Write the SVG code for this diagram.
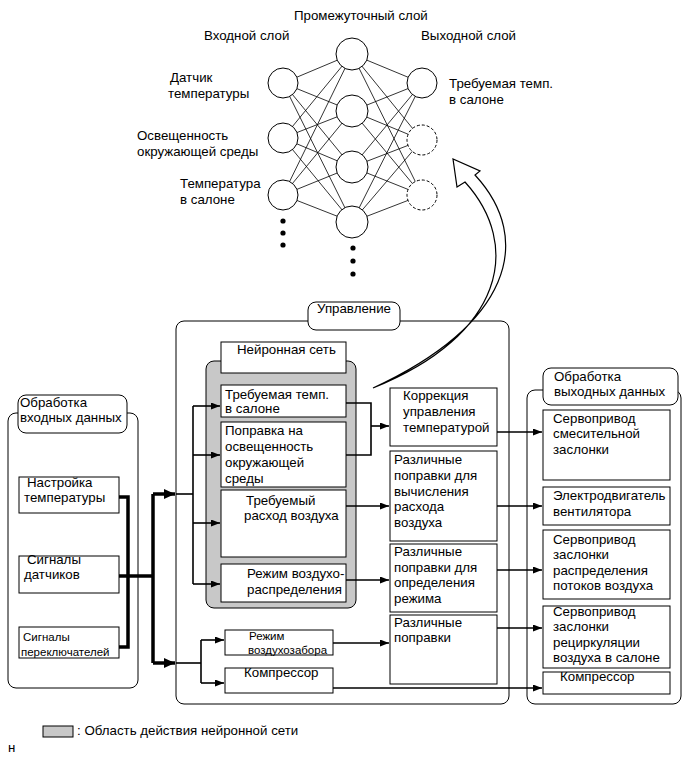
<svg xmlns="http://www.w3.org/2000/svg" width="690" height="759" viewBox="0 0 690 759">
<style>
text{font-family:"Liberation Sans",Arial,sans-serif;font-size:13.3px;fill:#000}
.sm{font-size:11.5px}
.box{fill:#fff;stroke:#000;stroke-width:1}
.grp{fill:#fff;stroke:#000;stroke-width:1}
.nn line{stroke:#000;stroke-width:0.8}
.neu{fill:#fff;stroke:#000;stroke-width:1}
.dash{fill:#fff;stroke:#000;stroke-width:1;stroke-dasharray:3,2}
.c{fill:none;stroke:#000;stroke-width:1.6}
.thick{fill:none;stroke:#000;stroke-width:3.5}
</style>
<defs>
<marker id="ah" markerUnits="userSpaceOnUse" markerWidth="10" markerHeight="8" refX="9" refY="3.5" orient="auto"><path d="M0,0 L9,3.5 L0,7 z" fill="#000"/></marker>
<marker id="ah2" markerUnits="userSpaceOnUse" markerWidth="12" markerHeight="10" refX="11" refY="5" orient="auto"><path d="M0,0 L11,5 L0,10 z" fill="#000"/></marker>
</defs>

<g id="network">
<g class="nn">
<line x1="283" y1="83" x2="352" y2="54"/><line x1="283" y1="83" x2="352" y2="111"/><line x1="283" y1="83" x2="352" y2="167"/><line x1="283" y1="83" x2="352" y2="222"/>
<line x1="283" y1="138" x2="352" y2="54"/><line x1="283" y1="138" x2="352" y2="111"/><line x1="283" y1="138" x2="352" y2="167"/><line x1="283" y1="138" x2="352" y2="222"/>
<line x1="283" y1="195" x2="352" y2="54"/><line x1="283" y1="195" x2="352" y2="111"/><line x1="283" y1="195" x2="352" y2="167"/><line x1="283" y1="195" x2="352" y2="222"/>
<line x1="352" y1="54" x2="422" y2="83"/><line x1="352" y1="54" x2="422" y2="140"/><line x1="352" y1="54" x2="422" y2="195"/>
<line x1="352" y1="111" x2="422" y2="83"/><line x1="352" y1="111" x2="422" y2="140"/><line x1="352" y1="111" x2="422" y2="195"/>
<line x1="352" y1="167" x2="422" y2="83"/><line x1="352" y1="167" x2="422" y2="140"/><line x1="352" y1="167" x2="422" y2="195"/>
<line x1="352" y1="222" x2="422" y2="83"/><line x1="352" y1="222" x2="422" y2="140"/><line x1="352" y1="222" x2="422" y2="195"/>
</g>
<circle class="neu" cx="283" cy="83" r="15"/>
<circle class="neu" cx="283" cy="138" r="15"/>
<circle class="neu" cx="283" cy="195" r="15"/>
<circle class="neu" cx="352" cy="54" r="16"/>
<circle class="neu" cx="352" cy="111" r="16"/>
<circle class="neu" cx="352" cy="167" r="16"/>
<circle class="neu" cx="352" cy="222" r="16"/>
<circle class="neu" cx="422" cy="83" r="15"/>
<circle class="dash" cx="422" cy="140" r="15"/>
<circle class="dash" cx="422" cy="195" r="15"/>
<circle cx="283" cy="221" r="2.6"/><circle cx="283" cy="233" r="2.6"/><circle cx="283" cy="245" r="2.6"/>
<circle cx="353" cy="248" r="2.6"/><circle cx="353" cy="261" r="2.6"/><circle cx="353" cy="274" r="2.6"/>
<text x="294" y="20">Промежуточный слой</text>
<text x="204" y="40">Входной слой</text>
<text x="421" y="40">Выходной слой</text>
<text x="170" y="82">Датчик</text>
<text x="168" y="98">температуры</text>
<text x="137" y="140">Освещенность</text>
<text x="137" y="156">окружающей среды</text>
<text x="180" y="188">Температура</text>
<text x="180" y="204">в салоне</text>
<text x="449" y="88">Требуемая темп.</text>
<text x="449" y="104">в салоне</text>
</g>

<g id="input-block">
<rect class="grp" x="8" y="413" width="130" height="275" rx="8"/>
<rect class="grp" x="18" y="395" width="109" height="38" rx="8"/>
<text x="20" y="407">Обработка</text>
<text x="20" y="422">входных данных</text>
</g>
<g id="in-temp"><rect class="box" x="19" y="477" width="100" height="36"/><text x="27" y="487">Настройка</text><text x="24" y="502">температуры</text></g>
<g id="in-sensors"><rect class="box" x="19" y="556" width="100" height="37"/><text x="27" y="564">Сигналы</text><text x="24" y="579">датчиков</text></g>
<g id="in-switches"><rect class="box" x="19" y="627" width="100" height="31"/><text class="sm" x="23" y="641">Сигналы</text><text class="sm" x="21" y="656">переключателей</text></g>

<g id="control-block">
<rect class="grp" x="176" y="321" width="333" height="383" rx="8"/>
<rect class="grp" x="308" y="302" width="92" height="28" rx="8"/>
<text x="354" y="313" text-anchor="middle">Управление</text>
</g>
<g id="nn-region">
<rect x="206" y="361" width="150" height="247" rx="8" fill="#c8c8c8" stroke="#000" stroke-width="1"/>
<rect class="box" x="221" y="342" width="125" height="31"/>
<text x="237" y="354">Нейронная сеть</text>
</g>
<g id="nn-temp"><rect class="box" x="221" y="385" width="125" height="32"/><text x="225" y="399">Требуемая темп.</text><text x="225" y="413">в салоне</text></g>
<g id="nn-light"><rect class="box" x="221" y="422" width="125" height="65"/><text x="225" y="435">Поправка на</text><text x="225" y="451">освещенность</text><text x="225" y="467">окружающей</text><text x="225" y="483">среды</text></g>
<g id="nn-flow"><rect class="box" x="221" y="490" width="125" height="67"/><text x="246" y="505">Требуемый</text><text x="244" y="520">расход воздуха</text></g>
<g id="nn-mode"><rect class="box" x="221" y="564" width="125" height="38"/><text x="247" y="578">Режим воздухо-</text><text x="247" y="594">распределения</text></g>
<g id="intake"><rect class="box" x="225" y="630" width="108" height="25"/><text class="sm" x="249" y="640">Режим</text><text class="sm" x="248" y="654">воздухозабора</text></g>
<g id="compressor"><rect class="box" x="225" y="668" width="108" height="25"/><text x="244" y="677">Компрессор</text></g>
<g id="corr-temp"><rect class="box" x="390" y="388" width="107" height="58"/><text x="403" y="400">Коррекция</text><text x="403" y="416">управления</text><text x="403" y="432">температурой</text></g>
<g id="corr-flow"><rect class="box" x="390" y="451" width="107" height="90"/><text x="394" y="464">Различные</text><text x="394" y="480">поправки для</text><text x="394" y="496">вычисления</text><text x="394" y="511">расхода</text><text x="394" y="527">воздуха</text></g>
<g id="corr-mode"><rect class="box" x="390" y="544" width="107" height="68"/><text x="394" y="556">Различные</text><text x="394" y="572">поправки для</text><text x="394" y="587">определения</text><text x="394" y="603">режима</text></g>
<g id="corr-misc"><rect class="box" x="390" y="615" width="107" height="69"/><text x="394" y="627">Различные</text><text x="394" y="642">поправки</text></g>

<g id="output-block">
<rect class="grp" x="527" y="390" width="154" height="314" rx="8"/>
<rect class="grp" x="543" y="368" width="135" height="37" rx="8"/>
<text x="554" y="381">Обработка</text>
<text x="554" y="396">выходных данных</text>
</g>
<g id="out-mix"><rect class="box" x="543" y="410" width="127" height="70"/><text x="553" y="423">Сервопривод</text><text x="553" y="438">смесительной</text><text x="553" y="454">заслонки</text></g>
<g id="out-fan"><rect class="box" x="543" y="487" width="127" height="38"/><text x="553" y="500">Электродвигатель</text><text x="553" y="516">вентилятора</text></g>
<g id="out-dist"><rect class="box" x="543" y="530" width="127" height="69"/><text x="553" y="544">Сервопривод</text><text x="553" y="559">заслонки</text><text x="553" y="575">распределения</text><text x="553" y="590">потоков воздуха</text></g>
<g id="out-recirc"><rect class="box" x="543" y="606" width="127" height="62"/><text x="553" y="616">Сервопривод</text><text x="553" y="631">заслонки</text><text x="553" y="647">рециркуляции</text><text x="553" y="662">воздуха в салоне</text></g>
<g id="out-comp"><rect class="box" x="543" y="672" width="127" height="22"/><text x="560" y="681">Компрессор</text></g>

<g id="connectors">
<path class="thick" d="M119,497 H128 V647 H119"/>
<path class="thick" d="M119,576 H153"/>
<path class="thick" d="M153,494 V663"/>
<path class="thick" d="M153,494 H175" marker-end="url(#ah2)"/>
<path class="thick" d="M153,663 H175" marker-end="url(#ah2)"/>
<path class="c" d="M176,494 H193"/>
<path class="c" d="M193,406 V584"/>
<path class="c" d="M193,406 H220" marker-end="url(#ah)"/>
<path class="c" d="M193,455 H220" marker-end="url(#ah)"/>
<path class="c" d="M193,523 H220" marker-end="url(#ah)"/>
<path class="c" d="M193,584 H220" marker-end="url(#ah)"/>
<path class="c" d="M176,663 H201"/>
<path class="c" d="M201,640 V683"/>
<path class="c" d="M201,640 H224" marker-end="url(#ah)"/>
<path class="c" d="M201,683 H224" marker-end="url(#ah)"/>
<path class="c" d="M346,403 H371 V455 H346"/>
<path class="c" d="M371,426 H389" marker-end="url(#ah)"/>
<path class="c" d="M346,506 H389" marker-end="url(#ah)"/>
<path class="c" d="M346,580 H389" marker-end="url(#ah)"/>
<path class="c" d="M333,643 H389" marker-end="url(#ah)"/>
<path class="c" d="M333,688 H542" marker-end="url(#ah)"/>
<path class="c" d="M497,432 H542" marker-end="url(#ah)"/>
<path class="c" d="M497,506 H542" marker-end="url(#ah)"/>
<path class="c" d="M497,570 H542" marker-end="url(#ah)"/>
<path class="c" d="M497,628 H542" marker-end="url(#ah)"/>
<path d="M373,388 C510,325 535,240 475,175 L480,171 L453,159 L457,187 L465,182 C522,245 505,335 373,388 Z" fill="#fff" stroke="#000" stroke-width="1.2"/>
</g>

<g id="legend">
<rect x="43" y="726" width="30" height="11" fill="#c8c8c8" stroke="#000" stroke-width="1"/>
<text x="77" y="735">: Область действия нейронной сети</text>
<text x="8" y="752">н</text>
</g>
</svg>
